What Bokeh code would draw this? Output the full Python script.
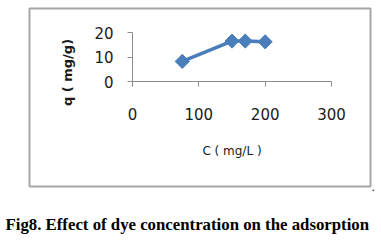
import math
from bokeh.plotting import figure
from bokeh.models import Range1d, Label, FixedTicker, LinearAxis
from bokeh.embed import file_html
from bokeh.resources import INLINE

# data
conc = [75, 150, 170, 200]          # C (mg/L)
q = [8.2, 16.5, 16.5, 16.2]          # q (mg/g)
x_ticks = [0, 100, 200, 300]
y_ticks = [0, 10, 20]
x_title = "C ( mg/L )"
y_title = "q ( mg/g)"
caption = "Fig8. Effect of dye concentration on the adsorption"

BLUE = "#4a7ebb"
AXIS = "#8c8c8c"

W, H = 381, 242
X0PX, X300PX, Y0PX, Y20PX = 132, 331, 81, 32   # where the axes sit, in pixels
XMAX, YMAX = 300, 20
KX = XMAX / (X300PX - X0PX)
KY = YMAX / (Y0PX - Y20PX)

def dx(px):
    return (px - X0PX) * KX

def dy(py):
    return (Y0PX - py) * KY

p = figure(width=W, height=H, output_backend="svg", toolbar_location=None,
           x_range=Range1d(dx(0), dx(W)), y_range=Range1d(dy(H), dy(0)),
           min_border=0, x_axis_location=None, y_axis_location=None)
p.outline_line_color = None
p.grid.visible = False
p.background_fill_color = "white"
p.border_fill_color = "white"

xa = LinearAxis(fixed_location=0, bounds=(0, XMAX), ticker=FixedTicker(ticks=x_ticks))
ya = LinearAxis(fixed_location=0, bounds=(0, YMAX), ticker=FixedTicker(ticks=y_ticks))
for ax in (xa, ya):
    ax.axis_line_color = AXIS
    ax.axis_line_width = 1
    ax.major_tick_line_color = AXIS
    ax.major_tick_in = 0
    ax.major_tick_out = 5
    ax.minor_tick_line_color = None
    ax.major_label_text_font = "DejaVu Sans"
    ax.major_label_text_font_size = "15px"
    ax.major_label_text_color = "#1a1a1a"
xa.major_label_standoff = 21
ya.major_label_standoff = 14
xa.axis_label = x_title
xa.axis_label_text_font = "DejaVu Sans"
xa.axis_label_text_font_style = "normal"
xa.axis_label_text_font_size = "12px"
xa.axis_label_text_color = "#1a1a1a"
xa.axis_label_standoff = 21
p.add_layout(xa, "below")
p.add_layout(ya, "left")

# outer chart box
p.quad(left=[dx(29)], right=[dx(370)], top=[dy(8)], bottom=[dy(186)],
       fill_alpha=0, line_color="#a6a6a6", line_width=2)

p.line(conc, q, line_color=BLUE, line_width=3.5)
p.scatter(conc, q, marker="square", angle=math.pi / 4, size=10,
          fill_color=BLUE, line_color=BLUE)

p.add_layout(Label(x=dx(67), y=dy(72), text=y_title,
                   angle=math.pi / 2, text_align="center", text_baseline="middle",
                   text_font="DejaVu Sans", text_font_style="bold",
                   text_font_size="13px", text_color="#1a1a1a"))

p.add_layout(Label(x=dx(5), y=dy(223.5), text=caption,
                   text_align="left", text_baseline="alphabetic",
                   text_font="Liberation Serif", text_font_style="bold",
                   text_font_size="16.8px", text_color="black"))
p.add_layout(Label(x=dx(371), y=dy(186), text=".",
                   text_align="left", text_baseline="alphabetic",
                   text_font="DejaVu Sans", text_font_size="11px", text_color="black"))

open("out.html", "w").write(file_html(p, INLINE))
